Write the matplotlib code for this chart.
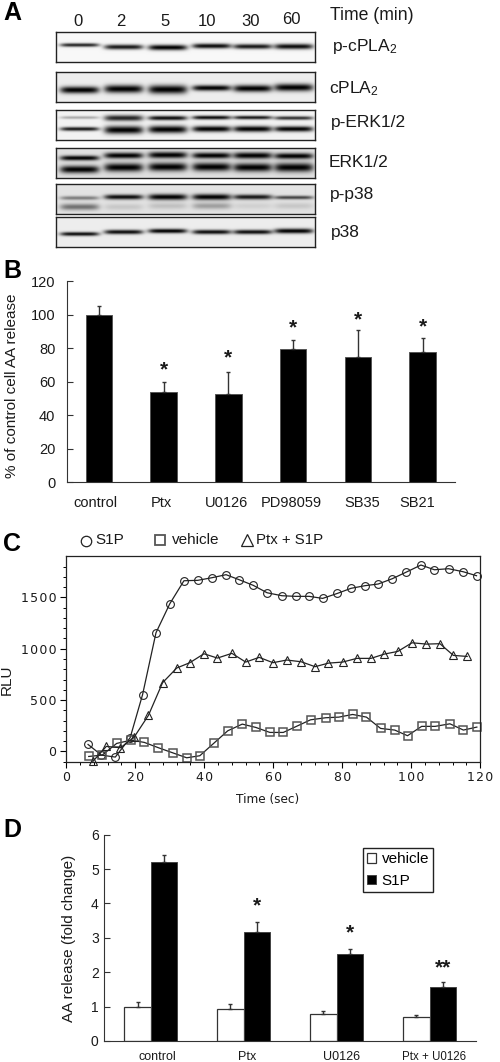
import matplotlib
matplotlib.use("Agg")
import matplotlib.pyplot as plt
import numpy as np

plt.rcParams['font.family'] = ['Liberation Sans', 'DejaVu Sans']
plt.rcParams['mathtext.default'] = 'regular'

W, H = 500, 1062
TEXT = '#1a1a1a'

# panel A
times = ['0', '2', '5', '10', '30', '60']
time_x = [78, 121, 165, 207, 251, 291]
time_y = [22, 21, 21, 21, 21, 20]
lane_x = [79, 123, 167, 211, 252, 293]
blot_names = ['p-cPLA$_2$', 'cPLA$_2$', 'p-ERK1/2', 'ERK1/2', 'p-p38', 'p38']
blot_tops = [32, 72, 110, 148, 184, 217]
blot_bg = [0.97, 0.93, 0.95, 0.88, 0.89, 0.93]
# each blot: list of bands as (row per lane, thickness per lane, darkness per lane)
blot_bands = [
    [([13, 15, 15.5, 14, 14.5, 14.5], [1.5, 2, 2.2, 2, 2, 2.2], [0.85, 0.9, 1, 0.95, 0.9, 0.95])],
    [([18, 17, 17.5, 16, 16.5, 15.5], [2.8, 3.2, 3.5, 2.3, 2.8, 3], [1, 1, 1, 1, 1, 1])],
    [([7.5, 8, 8, 7.5, 7.5, 8], [1.2, 2.4, 1.8, 1.6, 1.5, 1.5], [0.3, 0.85, 0.95, 0.95, 0.9, 0.8]),
     ([19, 20, 19.5, 19, 19, 19], [1.6, 3.2, 3, 2.4, 2.4, 2.2], [0.9, 1, 1, 1, 1, 1])],
    [([10, 7.5, 7, 7.5, 7.5, 8], [2, 2.4, 2.6, 2.4, 2.6, 2.4], [1, 1, 1, 1, 1, 1]),
     ([21.5, 19.5, 19, 19, 19.5, 19.5], [3, 3.4, 3.4, 3.4, 3.4, 3.6], [1, 1, 1, 1, 1, 1])],
    [([14, 13, 13, 13, 13, 13.5], [1.6, 2, 2.4, 2.4, 2, 1.5], [0.45, 0.95, 1, 1, 0.9, 0.7]),
     ([23, 23, 22, 22, 22, 22], [2.6, 2.6, 2.6, 2.6, 2.6, 2.6], [0.5, 0.12, 0.15, 0.3, 0.08, 0.12])],
    [([17, 15, 14, 15, 15, 14], [1.6, 1.8, 1.8, 1.8, 1.8, 2], [0.95, 0.95, 1, 0.95, 0.95, 1])],
]

# panel B
b_labels = ['control', 'Ptx', 'U0126', 'PD98059', 'SB35', 'SB21']
b_values = [100, 54, 53, 79.5, 75, 78]
b_errors = [5.5, 6, 13, 5.5, 16, 8]
b_stars = [None, 67.4, 74, 92, 97, 93]

# panel C
s1p_x = [6.3, 10.2, 14.2, 18.5, 22.1, 26.0, 30.0, 34.1, 38.1, 42.3, 46.3, 50.1, 54.2, 58.2, 62.5, 66.5, 70.4,
         74.3, 78.6, 82.5, 86.6, 90.4, 94.5, 98.6, 102.8, 106.7, 110.8, 115.0, 118.9]
s1p_y = [68, -36, -55, 133, 552, 1156, 1438, 1662, 1666, 1692, 1721, 1672, 1617, 1545, 1516, 1510, 1510,
         1490, 1539, 1588, 1614, 1630, 1682, 1747, 1815, 1769, 1779, 1750, 1711]
veh_x = [6.5, 10.4, 14.6, 18.8, 22.6, 26.7, 30.8, 34.9, 38.7, 42.8, 46.8, 51.0, 54.9, 59.0, 62.9, 66.9, 70.8,
         75.2, 79.0, 83.0, 87.0, 91.1, 95.2, 98.9, 103.0, 106.9, 111.2, 115.1, 119.0]
veh_y = [-49, -36, 78, 110, 88, 36, -13, -62, -42, 81, 201, 266, 234, 185, 185, 247, 308,
         328, 334, 360, 334, 224, 208, 153, 244, 244, 269, 208, 237]
ptx_x = [7.7, 11.6, 15.7, 19.6, 23.8, 27.9, 32.0, 35.8, 39.9, 43.8, 48.0, 52.0, 55.9, 59.9, 63.9, 68.1, 72.1,
         76.0, 80.1, 84.2, 88.3, 92.2, 96.1, 100.2, 104.4, 108.3, 112.2, 116.2]
ptx_y = [-97, 49, 36, 136, 351, 669, 812, 864, 951, 909, 955, 870, 916, 864, 890, 873, 825,
         860, 870, 906, 906, 948, 974, 1058, 1045, 1049, 935, 925]

# panel D
d_labels = ['control', 'Ptx', 'U0126', 'Ptx + U0126']
d_vehicle = [1.0, 0.92, 0.78, 0.70]
d_vehicle_err = [0.12, 0.16, 0.10, 0.07]
d_s1p = [5.22, 3.17, 2.52, 1.56]
d_s1p_err = [0.20, 0.29, 0.16, 0.16]
d_stars = [None, '*', '*', '**']
d_star_y = [None, 3.94, 3.13, 2.14]


def px_axes(left, top, right, bottom):
    return fig.add_axes([left / W, 1 - bottom / H, (right - left) / W, (bottom - top) / H])


def px_text(x, y, s, **kw):
    kw.setdefault('color', TEXT)
    kw.setdefault('va', 'center')
    return fig.text(x / W, 1 - y / H, s, **kw)


fig = plt.figure(figsize=(W / 100, H / 100), dpi=100, facecolor='white')

for letter, y in zip('ABCD', [13, 271, 544, 830]):
    px_text(3, y, letter, fontsize=18, fontweight='bold', color='black')

# blots
left, right = 55.5, 315
blot_h = 30
yy, xx = np.mgrid[0:blot_h:120j, left:right:520j]
for top, bg, bands in zip(blot_tops, blot_bg, blot_bands):
    img = np.full(xx.shape, bg)
    for rows, thick, dark in bands:
        for lx, r, t, d in zip(lane_x, rows, thick, dark):
            across = np.exp(-((xx - lx) / 19.5) ** 6)
            along = np.exp(-((yy - r) / (1.25 * t)) ** 2)
            img = img * (1 - d * across * along)
    ax = px_axes(left, top, right, top + blot_h)
    ax.imshow(img, cmap='gray', vmin=0, vmax=1, aspect='auto', extent=(left, right, blot_h, 0))
    ax.set_xticks([])
    ax.set_yticks([])
    for sp in ax.spines.values():
        sp.set_linewidth(1.0)
        sp.set_color('#222222')

for x, t, y in zip(time_x, times, time_y):
    px_text(x, y, t, fontsize=12, ha='center')
px_text(329.5, 16, 'Time (min)', fontsize=12.7)
for name, x, y in zip(blot_names, [332, 329, 330.5, 328.5, 329.5, 330.5], [46, 89, 122, 163, 194, 232]):
    px_text(x, y, name, fontsize=12.5)

# bar panel B
ax = px_axes(66.5, 281.3, 455, 482.3)
pos = np.arange(len(b_values)) + 0.5
ax.bar(pos, b_values, width=0.41, color='black', edgecolor='#555555', linewidth=0.7)
ax.errorbar(pos, b_values, yerr=[np.zeros(6), b_errors], fmt='none', ecolor='#333333',
            elinewidth=1, capsize=1.5, capthick=1)
for p, s in zip(pos, b_stars):
    if s is not None:
        ax.text(p, s, '*', fontsize=15, fontweight='bold', ha='center', va='center', color=TEXT)
ax.set_xlim(0, 6)
ax.set_ylim(0, 120)
ax.set_yticks(range(0, 121, 20))
ax.set_xticks([])
ax.spines[['top', 'right']].set_visible(False)
ax.spines[['left', 'bottom']].set_color('#333333')
ax.tick_params(axis='y', direction='in', length=4, labelsize=10.5, labelcolor=TEXT, color='#333333', pad=8)
for lab, x in zip(b_labels, [95, 161, 227, 291, 362, 417]):
    px_text(x, 503, lab, fontsize=10.5, ha='center')
px_text(12, 385.5, '% of control cell AA release', fontsize=11, rotation=90, ha='center')

# line panel C
ax = px_axes(66.3, 556.3, 480.3, 761.7)
mk = dict(color='#222222', lw=0.9, clip_on=False)
ax.plot(s1p_x, s1p_y, marker='o', ms=5.6, mfc='none', mec='#222222', mew=0.8, **mk)
ax.plot(veh_x, veh_y, marker='s', ms=5.9, mfc='none', mec='#555555', mew=1.1, **mk)
ax.plot(ptx_x, ptx_y, marker='^', ms=6.3, mfc='none', mec='#222222', mew=0.8, **mk)
ax.set_xlim(0, 120)
ax.set_ylim(-100, 1900)
ax.set_xticks(range(0, 121, 20))
ax.set_xticks(range(0, 121, 4), minor=True)
ax.set_yticks(range(0, 1501, 500))
ax.set_yticks(range(-100, 1900, 100), minor=True)
ax.set_xticklabels(['\u200a'.join(str(v)) for v in range(0, 121, 20)], family='DejaVu Sans')
ax.set_yticklabels(['\u200a'.join(str(v)) for v in range(0, 1501, 500)], family='DejaVu Sans')
ax.tick_params(which='major', direction='out', length=4, width=0.8, labelsize=9, labelcolor=TEXT, pad=3)
ax.tick_params(which='minor', direction='out', length=2, width=0.7)
for sp in ax.spines.values():
    sp.set_linewidth(0.9)
    sp.set_color('#222222')
px_text(268, 800, 'Time (sec)', fontsize=8.7, ha='center', family='DejaVu Sans')
px_text(7, 680, 'RLU', fontsize=11, rotation=90, ha='center')

key = fig.add_axes([0, 0, 1, 1], facecolor='none')
key.set_xlim(0, W)
key.set_ylim(H, 0)
key.axis('off')
key.plot(85.5, 540.5, marker='o', ms=7.5, mfc='none', mec='#222222', mew=0.9)
key.plot(160, 540, marker='s', ms=7.5, mfc='none', mec='#555555', mew=1.3)
key.plot(246.5, 539.5, marker='^', ms=8, mfc='none', mec='#222222', mew=0.9)
px_text(95.5, 540, 'S1P', fontsize=11)
px_text(171.5, 540, 'vehicle', fontsize=11)
px_text(255.5, 540, 'Ptx + S1P', fontsize=10.8)

# bar panel D
ax = px_axes(104.3, 834.7, 476, 1041)
pos = np.arange(len(d_s1p)) + 0.5
bw = 0.285
ax.bar(pos - bw / 2, d_vehicle, width=bw, color='white', edgecolor='#333333', linewidth=0.9, label='vehicle')
ax.bar(pos + bw / 2, d_s1p, width=bw, color='black', edgecolor='#444444', linewidth=0.7, label='S1P')
ax.errorbar(pos - bw / 2, d_vehicle, yerr=[np.zeros(4), d_vehicle_err], fmt='none', ecolor='#333333',
            elinewidth=1, capsize=1.5, capthick=1)
ax.errorbar(pos + bw / 2, d_s1p, yerr=[np.zeros(4), d_s1p_err], fmt='none', ecolor='#333333',
            elinewidth=1, capsize=1.5, capthick=1)
for p, s, y in zip(pos, d_stars, d_star_y):
    if s is not None:
        ax.text(p + bw / 2, y, s, fontsize=15, fontweight='bold', ha='center', va='center', color=TEXT)
ax.set_xlim(0, 4)
ax.set_ylim(0, 6)
ax.set_xticks([])
ax.set_yticks(range(0, 7))
ax.spines[['top', 'right']].set_visible(False)
ax.spines[['left', 'bottom']].set_color('#333333')
ax.tick_params(axis='y', direction='in', length=4, labelsize=10, labelcolor=TEXT, color='#333333', pad=4)
ax.legend(loc='upper left', bbox_to_anchor=((363 - 104.3) / 371.7, 1 - (848 - 834.7) / 206.3), frameon=True,
          fancybox=False, edgecolor='#222222', framealpha=1, fontsize=11, handlelength=0.6, handleheight=0.6,
          handletextpad=0.35, borderpad=0.27, labelspacing=0.5, borderaxespad=0)
for lab, x, fs in zip(d_labels, [157, 247, 342, 434], [9, 9, 9, 8.3]):
    px_text(x, 1057, lab, fontsize=fs, ha='center')
px_text(69, 938, 'AA release (fold change)', fontsize=11, rotation=90, ha='center')

fig.savefig('out.png', dpi=100)
